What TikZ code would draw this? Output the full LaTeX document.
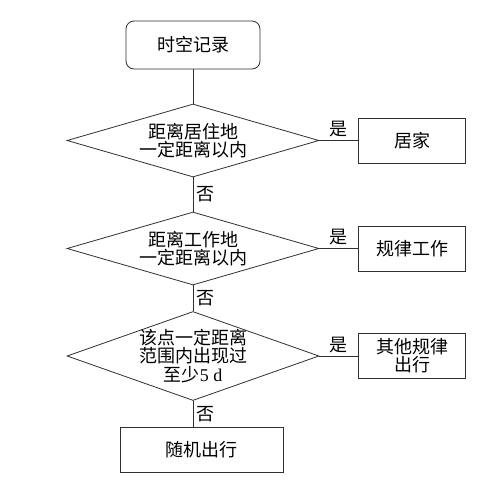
\documentclass[tikz,border=0pt]{standalone}
\usepackage{fontspec}
\setmainfont{Liberation Serif}
\newfontfamily\cjk{Noto Sans CJK SC}
\usepackage{tikz}
\usetikzlibrary{positioning,shapes.geometric}
\usepackage{xcolor}
\definecolor{linecol}{HTML}{303030}
\tikzset{
  startbox/.style={draw=linecol,rounded corners=8pt,line width=0.8pt,align=center,
    minimum width=134pt,minimum height=48pt,font=\cjk\fontsize{18}{18.3}\selectfont},
  decision/.style={draw=linecol,diamond,aspect=3.45,inner sep=0pt,line width=0.8pt,align=center,
    minimum width=252pt,minimum height=73pt,font=\cjk\fontsize{18}{18.3}\selectfont},
  result/.style={draw=linecol,line width=0.8pt,align=center,
    minimum width=107pt,minimum height=45pt,font=\cjk\fontsize{18}{18.3}\selectfont},
  link/.style={draw=linecol,line width=0.8pt},
  answer/.style={font=\cjk\fontsize{18}{18.3}\selectfont,inner sep=3pt}
}
\begin{document}
\begin{tikzpicture}[x=1pt,y=-1pt,node distance=39pt]
  \useasboundingbox (0,0) rectangle (501,488);
  \node[startbox] (rec) at (193,45) {时空记录};
  \node[decision] (home) at (193,140.5) {距离居住地\\一定距离以内};
  \node[decision] (work) at (193,248.5) {距离工作地\\一定距离以内};
  \node[decision,aspect=2.83,inner sep=-4pt,minimum height=89pt] (spot) at (193,356) {该点一定距离\\范围内出现过\\至少{\rmfamily 5 d}};
  \node[result,right=of home] (athome) {居家};
  \node[result,right=of work] (commute) {规律工作};
  \node[result,right=of spot] (other) {其他规律\\出行};
  \node[result,minimum width=163pt] (rand) at (201.5,449.5) {随机出行};
  \draw[link] (rec) -- (home);
  \foreach \a/\b in {home/work,work/spot}{\draw[link] (\a) -- node[answer,right]{否} (\b);}
  \draw[link] (spot.south) -- node[answer,right]{否} (spot.south |- rand.north);
  \foreach \a/\b in {home/athome,work/commute,spot/other}{\draw[link] (\a) -- node[answer,above]{是} (\b);}
\end{tikzpicture}
\end{document}
